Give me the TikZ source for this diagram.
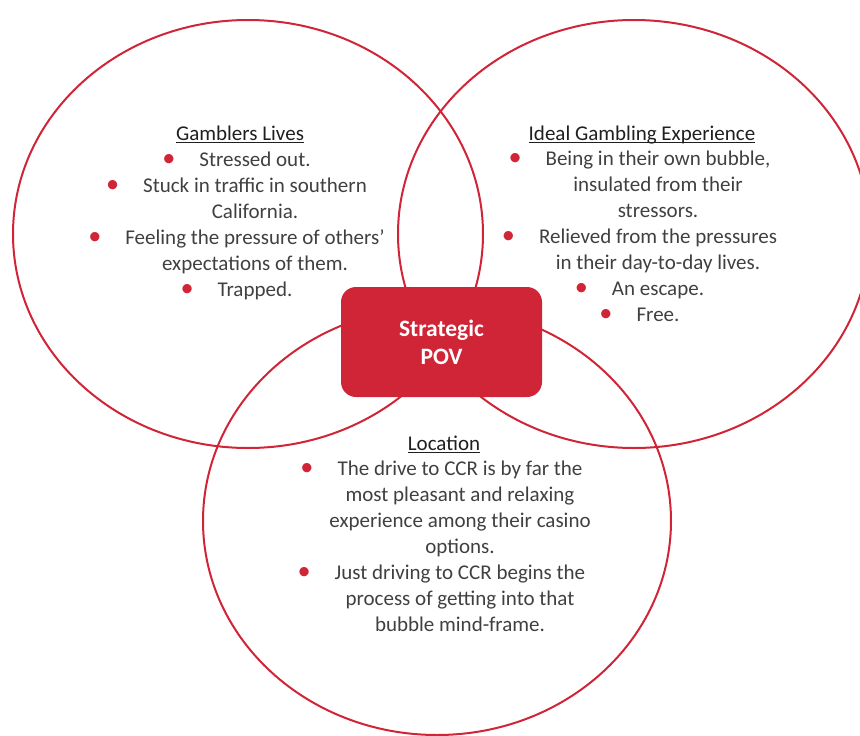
\documentclass[tikz,border=0pt]{standalone}
\usepackage{fontspec}
\setmainfont{Carlito}
\usepackage{xcolor}

\definecolor{vennred}{HTML}{D02437}
\definecolor{bodygrey}{HTML}{404040}
\definecolor{headgrey}{HTML}{1F1F1F}

% hanging red bullet, text stays centred
\newcommand{\bul}{\llap{\textcolor{vennred}{\scalebox{1.25}{\textbullet}}\hspace{24pt}}}
% underline at a fixed depth, through the descenders
\newcommand{\headline}[1]{\setbox0\hbox{#1}\rlap{\rule[-3.2pt]{\wd0}{1.3pt}}\box0}

\begin{document}
\begin{tikzpicture}[x=1pt,y=-1pt,
    ring/.style={draw=vennred,line width=2pt},
    head/.style={anchor=base,inner sep=0pt,text=headgrey,font=\fontsize{21}{26}\selectfont},
    items/.style={anchor=base,inner sep=0pt,align=center,text=bodygrey,font=\fontsize{21}{26}\selectfont}]
  \useasboundingbox (0,0) rectangle (860,736);

  % the three sets
  \draw[ring] (248,234) ellipse [x radius=235, y radius=214];
  \draw[ring] (634,234) ellipse [x radius=236, y radius=214];
  \draw[ring] (437,521) ellipse [x radius=234, y radius=214];

  % left set (list placed by its last baseline)
  \node[head] (livesHead) at (240,140) {\headline{Gamblers Lives}};
  \node[items] (livesList) at (255,296) {\bul Stressed out.\\
    \bul Stuck in traffic in southern\\ California.\\
    \bul Feeling the pressure of others’\\ expectations of them.\\
    \bul Trapped.};

  % right set
  \node[head] (idealHead) at (642,140) {\headline{Ideal Gambling Experience}};
  \node[items] (idealList) at (658,321) {\bul Being in their own bubble,\\
    insulated from their\\ stressors.\\
    \bul Relieved from the pressures\\ in their day-to-day lives.\\
    \bul An escape.\\
    \bul Free.};

  % bottom set
  \node[head] (locHead) at (444,450) {\headline{Location}};
  \node[items] (locList) at (460,631) {\bul The drive to CCR is by far the\\
    most pleasant and relaxing\\ experience among their casino\\ options.\\
    \bul Just driving to CCR begins the\\
    process of getting into that\\ bubble mind-frame.};

  % centre box
  \node[fill=vennred,rounded corners=15pt,minimum width=201pt,minimum height=110pt,
        align=center,text=white,font=\bfseries\fontsize{23.5}{28}\selectfont] (pov) at (441.5,342)
        {Strategic\\POV};
\end{tikzpicture}
\end{document}
